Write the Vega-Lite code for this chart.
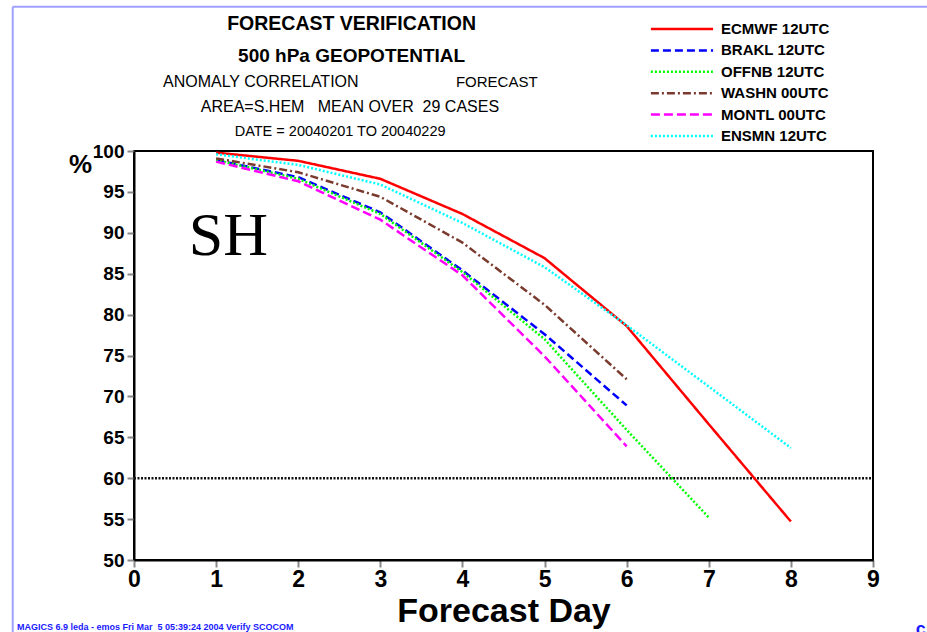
{
  "$schema": "https://vega.github.io/schema/vega-lite/v6.json",
  "width": 739,
  "height": 409,
  "autosize": {"type": "none"},
  "padding": {"left": 134, "top": 151, "right": 54, "bottom": 72},
  "background": "white",
  "config": {
    "view": {"stroke": "#000", "strokeWidth": 2},
    "font": "Liberation Sans"
  },
  "data": {"values": [
    {"model": "ECMWF 12UTC", "day": 1, "value": 99.8},
    {"model": "ECMWF 12UTC", "day": 2, "value": 98.8},
    {"model": "ECMWF 12UTC", "day": 3, "value": 96.6},
    {"model": "ECMWF 12UTC", "day": 4, "value": 92.3},
    {"model": "ECMWF 12UTC", "day": 5, "value": 86.9},
    {"model": "ECMWF 12UTC", "day": 6, "value": 78.6},
    {"model": "ECMWF 12UTC", "day": 7, "value": 66.6},
    {"model": "ECMWF 12UTC", "day": 8, "value": 54.7},
    {"model": "BRAKL 12UTC", "day": 1, "value": 98.9},
    {"model": "BRAKL 12UTC", "day": 2, "value": 96.8},
    {"model": "BRAKL 12UTC", "day": 3, "value": 92.5},
    {"model": "BRAKL 12UTC", "day": 4, "value": 85.4},
    {"model": "BRAKL 12UTC", "day": 5, "value": 77.6},
    {"model": "BRAKL 12UTC", "day": 6, "value": 68.9},
    {"model": "OFFNB 12UTC", "day": 1, "value": 98.9},
    {"model": "OFFNB 12UTC", "day": 2, "value": 96.6},
    {"model": "OFFNB 12UTC", "day": 3, "value": 92.3},
    {"model": "OFFNB 12UTC", "day": 4, "value": 85.2},
    {"model": "OFFNB 12UTC", "day": 5, "value": 77.0},
    {"model": "OFFNB 12UTC", "day": 6, "value": 65.9},
    {"model": "OFFNB 12UTC", "day": 7, "value": 55.2},
    {"model": "WASHN 00UTC", "day": 1, "value": 99.1},
    {"model": "WASHN 00UTC", "day": 2, "value": 97.4},
    {"model": "WASHN 00UTC", "day": 3, "value": 94.4},
    {"model": "WASHN 00UTC", "day": 4, "value": 88.8},
    {"model": "WASHN 00UTC", "day": 5, "value": 81.2},
    {"model": "WASHN 00UTC", "day": 6, "value": 72.1},
    {"model": "MONTL 00UTC", "day": 1, "value": 98.7},
    {"model": "MONTL 00UTC", "day": 2, "value": 96.3},
    {"model": "MONTL 00UTC", "day": 3, "value": 91.6},
    {"model": "MONTL 00UTC", "day": 4, "value": 84.8},
    {"model": "MONTL 00UTC", "day": 5, "value": 74.9},
    {"model": "MONTL 00UTC", "day": 6, "value": 63.9},
    {"model": "ENSMN 12UTC", "day": 1, "value": 99.6},
    {"model": "ENSMN 12UTC", "day": 2, "value": 98.3},
    {"model": "ENSMN 12UTC", "day": 3, "value": 95.9},
    {"model": "ENSMN 12UTC", "day": 4, "value": 91.2},
    {"model": "ENSMN 12UTC", "day": 5, "value": 85.8},
    {"model": "ENSMN 12UTC", "day": 6, "value": 78.7},
    {"model": "ENSMN 12UTC", "day": 7, "value": 71.2},
    {"model": "ENSMN 12UTC", "day": 8, "value": 63.7}
  ]},
  "encoding": {
    "x": {
      "field": "day", "type": "quantitative",
      "scale": {"domain": [0, 9], "nice": false, "zero": false},
      "axis": {
        "title": "Forecast Day",
        "values": [0, 1, 2, 3, 4, 5, 6, 7, 8, 9],
        "format": "d",
        "grid": false,
        "domainColor": "#000", "domainWidth": 2,
        "tickColor": "#888", "tickSize": 7, "tickWidth": 2,
        "labelFont": "Liberation Sans Narrow, Liberation Sans",
        "labelFontSize": 23, "labelFontWeight": "bold", "labelColor": "#000",
        "labelPadding": 1, "labelFlush": false,
        "titleFont": "Liberation Sans", "titleFontSize": 34, "titleFontWeight": "bold",
        "titleColor": "#000", "titlePadding": 3
      }
    },
    "y": {
      "field": "value", "type": "quantitative",
      "scale": {"domain": [50, 100], "nice": false, "zero": false},
      "axis": {
        "title": "%",
        "values": [50, 55, 60, 65, 70, 75, 80, 85, 90, 95, 100],
        "grid": false,
        "domainColor": "#000", "domainWidth": 2,
        "tickColor": "#888", "tickSize": 7, "tickWidth": 2,
        "labelFontSize": 19, "labelFontWeight": "bold", "labelColor": "#000",
        "labelPadding": 3, "labelFlush": false,
        "titleAngle": 0, "titleFontSize": 26, "titleFontWeight": "bold", "titleColor": "#000",
        "titleX": -54, "titleY": 13, "titleAlign": "center", "titleBaseline": "middle"
      }
    }
  },
  "layer": [
    {
      "transform": [{"filter": "datum.model == 'ECMWF 12UTC' && datum.day == 1"}],
      "mark": {"type": "rule", "color": "#111", "strokeWidth": 2.5, "strokeDash": [2, 1.5]},
      "encoding": {"y": {"datum": 60}, "x": {"datum": 0}, "x2": {"datum": 9}}
    },
    {
      "mark": {"type": "line", "strokeWidth": 2.5},
      "encoding": {
        "color": {
          "field": "model", "type": "nominal",
          "scale": {
            "domain": ["ECMWF 12UTC", "BRAKL 12UTC", "OFFNB 12UTC", "WASHN 00UTC", "MONTL 00UTC", "ENSMN 12UTC"],
            "range": ["#ff0000", "#0000ff", "#00ff00", "#7a3b2e", "#ff00ff", "#00ffff"]
          },
          "legend": {
            "title": null, "orient": "none", "legendX": 536, "legendY": -134,
            "symbolType": "M-2.9,0H2.9", "symbolSize": 460, "symbolStrokeWidth": 2.5,
            "labelFontSize": 15, "labelFontWeight": "bold", "labelColor": "#000",
            "labelOffset": 27, "rowPadding": 1.4, "padding": 0
          }
        },
        "strokeDash": {
          "field": "model", "type": "nominal",
          "scale": {
            "domain": ["ECMWF 12UTC", "BRAKL 12UTC", "OFFNB 12UTC", "WASHN 00UTC", "MONTL 00UTC", "ENSMN 12UTC"],
            "range": [[1, 0], [8, 4], [2, 2], [8, 3, 2, 3], [9, 4], [2, 2]]
          },
          "legend": {
            "title": null, "orient": "none", "legendX": 536, "legendY": -134,
            "symbolType": "M-2.9,0H2.9", "symbolSize": 460, "symbolStrokeWidth": 2.5,
            "labelFontSize": 15, "labelFontWeight": "bold", "labelColor": "#000",
            "labelOffset": 27, "rowPadding": 1.4, "padding": 0
          }
        }
      }
    },
    {
      "transform": [{"filter": "datum.model == 'ECMWF 12UTC' && datum.day == 1"}],
      "mark": {"type": "text", "text": "SH", "font": "Liberation Serif", "fontSize": 62, "align": "center", "baseline": "middle", "color": "#000"},
      "encoding": {"x": {"datum": 1.15}, "y": {"datum": 89.6}}
    },
    {
      "transform": [{"filter": "datum.model == 'ECMWF 12UTC' && datum.day == 1"}],
      "mark": {"type": "text", "text": "FORECAST VERIFICATION", "fontSize": 19.5, "fontWeight": "bold", "align": "center", "baseline": "middle", "color": "#000"},
      "encoding": {"x": {"datum": 2.65}, "y": {"datum": 115.55}}
    },
    {
      "transform": [{"filter": "datum.model == 'ECMWF 12UTC' && datum.day == 1"}],
      "mark": {"type": "text", "text": "500 hPa GEOPOTENTIAL", "fontSize": 19, "fontWeight": "bold", "align": "center", "baseline": "middle", "color": "#000"},
      "encoding": {"x": {"datum": 2.65}, "y": {"datum": 111.65}}
    },
    {
      "transform": [{"filter": "datum.model == 'ECMWF 12UTC' && datum.day == 1"}],
      "mark": {"type": "text", "text": "ANOMALY CORRELATION", "fontSize": 16, "align": "left", "baseline": "middle", "color": "#000"},
      "encoding": {"x": {"datum": 0.353}, "y": {"datum": 108.4}}
    },
    {
      "transform": [{"filter": "datum.model == 'ECMWF 12UTC' && datum.day == 1"}],
      "mark": {"type": "text", "text": "FORECAST", "fontSize": 15, "align": "left", "baseline": "middle", "color": "#000"},
      "encoding": {"x": {"datum": 3.92}, "y": {"datum": 108.4}}
    },
    {
      "transform": [{"filter": "datum.model == 'ECMWF 12UTC' && datum.day == 1"}],
      "mark": {"type": "text", "text": "AREA=S.HEM\u00a0\u00a0\u00a0MEAN OVER\u00a0\u00a029 CASES", "fontSize": 16, "align": "center", "baseline": "middle", "color": "#000"},
      "encoding": {"x": {"datum": 2.63}, "y": {"datum": 105.4}}
    },
    {
      "transform": [{"filter": "datum.model == 'ECMWF 12UTC' && datum.day == 1"}],
      "mark": {"type": "text", "text": "DATE = 20040201 TO 20040229", "fontSize": 14.5, "align": "center", "baseline": "middle", "color": "#000"},
      "encoding": {"x": {"datum": 2.51}, "y": {"datum": 102.3}}
    },
    {
      "transform": [{"filter": "datum.model == 'ECMWF 12UTC' && datum.day == 1"}],
      "mark": {"type": "text", "text": "MAGICS 6.9 leda - emos Fri Mar\u00a0\u00a05 05:39:24 2004 Verify SCOCOM", "fontSize": 9, "fontWeight": "bold", "align": "left", "baseline": "middle", "color": "#1a1aff"},
      "encoding": {"x": {"datum": -1.425}, "y": {"datum": 41.8}}
    },
    {
      "transform": [{"filter": "datum.model == 'ECMWF 12UTC' && datum.day == 1"}],
      "mark": {"type": "text", "text": "c", "fontSize": 18, "fontWeight": "bold", "align": "left", "baseline": "middle", "color": "#1a1aff"},
      "encoding": {"x": {"datum": 9.52}, "y": {"datum": 41.5}}
    },
    {
      "transform": [{"filter": "datum.model == 'ECMWF 12UTC' && datum.day == 1"}],
      "mark": {"type": "rule", "color": "#a0a0ff", "strokeWidth": 2},
      "encoding": {"x": {"datum": -1.477}, "x2": {"datum": 9.7}, "y": {"datum": 117.64}}
    },
    {
      "transform": [{"filter": "datum.model == 'ECMWF 12UTC' && datum.day == 1"}],
      "mark": {"type": "rule", "color": "#a0a0ff", "strokeWidth": 2},
      "encoding": {"x": {"datum": -1.477}, "y": {"datum": 117.64}, "y2": {"datum": 41.0}}
    }
  ]
}
